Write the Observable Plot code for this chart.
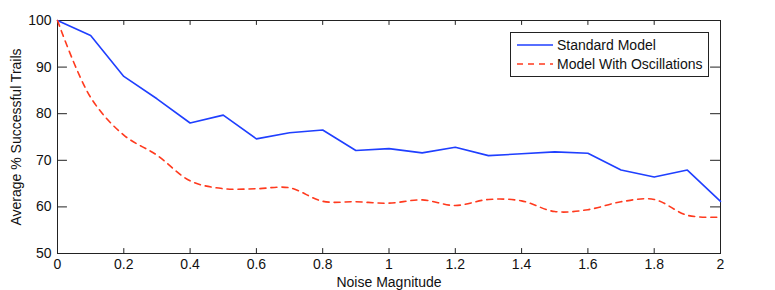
<!DOCTYPE html>
<html>
<head>
<meta charset="utf-8">
<script src="https://cdn.jsdelivr.net/npm/d3@7"></script>
<script src="https://cdn.jsdelivr.net/npm/@observablehq/plot@0.6"></script>
<style>
  html, body { margin: 0; padding: 0; background: #fff; }
  #wrap { position: relative; width: 775px; height: 290px; font-family: "Liberation Sans", Arial, Helvetica, sans-serif; }
  #legend { position: absolute; left: 510px; top: 32px; width: 197px; height: 43px; border: 1px solid #222; background: #fff; font-size: 14px; color: #111; }
  .row { position: absolute; left: 6px; height: 18px; display: flex; align-items: center; }
  .row svg { margin-right: 4px; }
</style>
</head>
<body>
<div id="wrap"></div>
<script>
const noise = [0, 0.1, 0.2, 0.3, 0.4, 0.5, 0.6, 0.7, 0.8, 0.9, 1.0, 1.1, 1.2, 1.3, 1.4, 1.5, 1.6, 1.7, 1.8, 1.9, 2.0];
const standardModel = [100, 96.8, 88.0, 83.2, 78.0, 79.7, 74.6, 75.9, 76.5, 72.1, 72.5, 71.6, 72.8, 71.0, 71.4, 71.8, 71.5, 67.9, 66.4, 67.9, 61.2];
const oscillationModel = [100, 83.5, 75.4, 71.1, 65.6, 63.9, 63.9, 64.1, 61.2, 61.1, 60.8, 61.5, 60.3, 61.6, 61.3, 59.0, 59.4, 61.1, 61.6, 58.2, 57.8];
const seriesNames = ["Standard Model", "Model With Oscillations"];
const xTicks = [0, 0.2, 0.4, 0.6, 0.8, 1, 1.2, 1.4, 1.6, 1.8, 2];
const yTicks = [50, 60, 70, 80, 90, 100];
const blue = "#1f3fff";
const red = "#ff3a1e";

const std = noise.map((x, i) => ({x, y: standardModel[i]}));
const osc = noise.map((x, i) => ({x, y: oscillationModel[i]}));

const chart = Plot.plot({
  width: 775,
  height: 290,
  marginLeft: 57,
  marginRight: 55,
  marginTop: 20,
  marginBottom: 37,
  style: {fontFamily: "'Liberation Sans', Arial, Helvetica, sans-serif", fontSize: "14px", color: "#111", background: "#fff"},
  x: {domain: [0, 2]},
  y: {domain: [50, 100]},
  marks: [
    Plot.axisX(xTicks, {tickSize: 0, tickPadding: 6, fontSize: 14, label: "Noise Magnitude", labelAnchor: "center", labelArrow: "none", labelOffset: 33, tickFormat: d => String(d)}),
    Plot.axisY(yTicks, {tickSize: 0, tickPadding: 6, fontSize: 14, label: "Average % Successful Trails", labelAnchor: "center", labelArrow: "none", labelOffset: 46}),
    Plot.ruleX(xTicks, {x: d => d, y1: 50, y2: 51.05, stroke: "#222"}),
    Plot.ruleX(xTicks, {x: d => d, y1: 98.95, y2: 100, stroke: "#222"}),
    Plot.ruleY(yTicks, {y: d => d, x1: 0, x2: 0.03, stroke: "#222"}),
    Plot.ruleY(yTicks, {y: d => d, x1: 1.97, x2: 2, stroke: "#222"}),
    Plot.frame({stroke: "#222"}),
    Plot.line(std, {x: "x", y: "y", stroke: blue, strokeWidth: 1.6}),
    Plot.line(osc, {x: "x", y: "y", stroke: red, strokeWidth: 1.6, strokeDasharray: "6,5", curve: "catmull-rom"})
  ]
});
document.getElementById("wrap").appendChild(chart);

const legend = document.createElement("div");
legend.id = "legend";
const rows = [[seriesNames[0], blue, null], [seriesNames[1], red, "6,5"]];
rows.forEach(([name, color, dash], i) => {
  const r = document.createElement("div");
  r.className = "row";
  r.style.top = (3 + i * 19) + "px";
  r.innerHTML = `<svg width="36" height="18"><line x1="0" y1="9" x2="36" y2="9" stroke="${color}" stroke-width="1.6" ${dash ? `stroke-dasharray="${dash}"` : ""}/></svg><span>${name}</span>`;
  legend.appendChild(r);
});
document.getElementById("wrap").appendChild(legend);
</script>
</body>
</html>
